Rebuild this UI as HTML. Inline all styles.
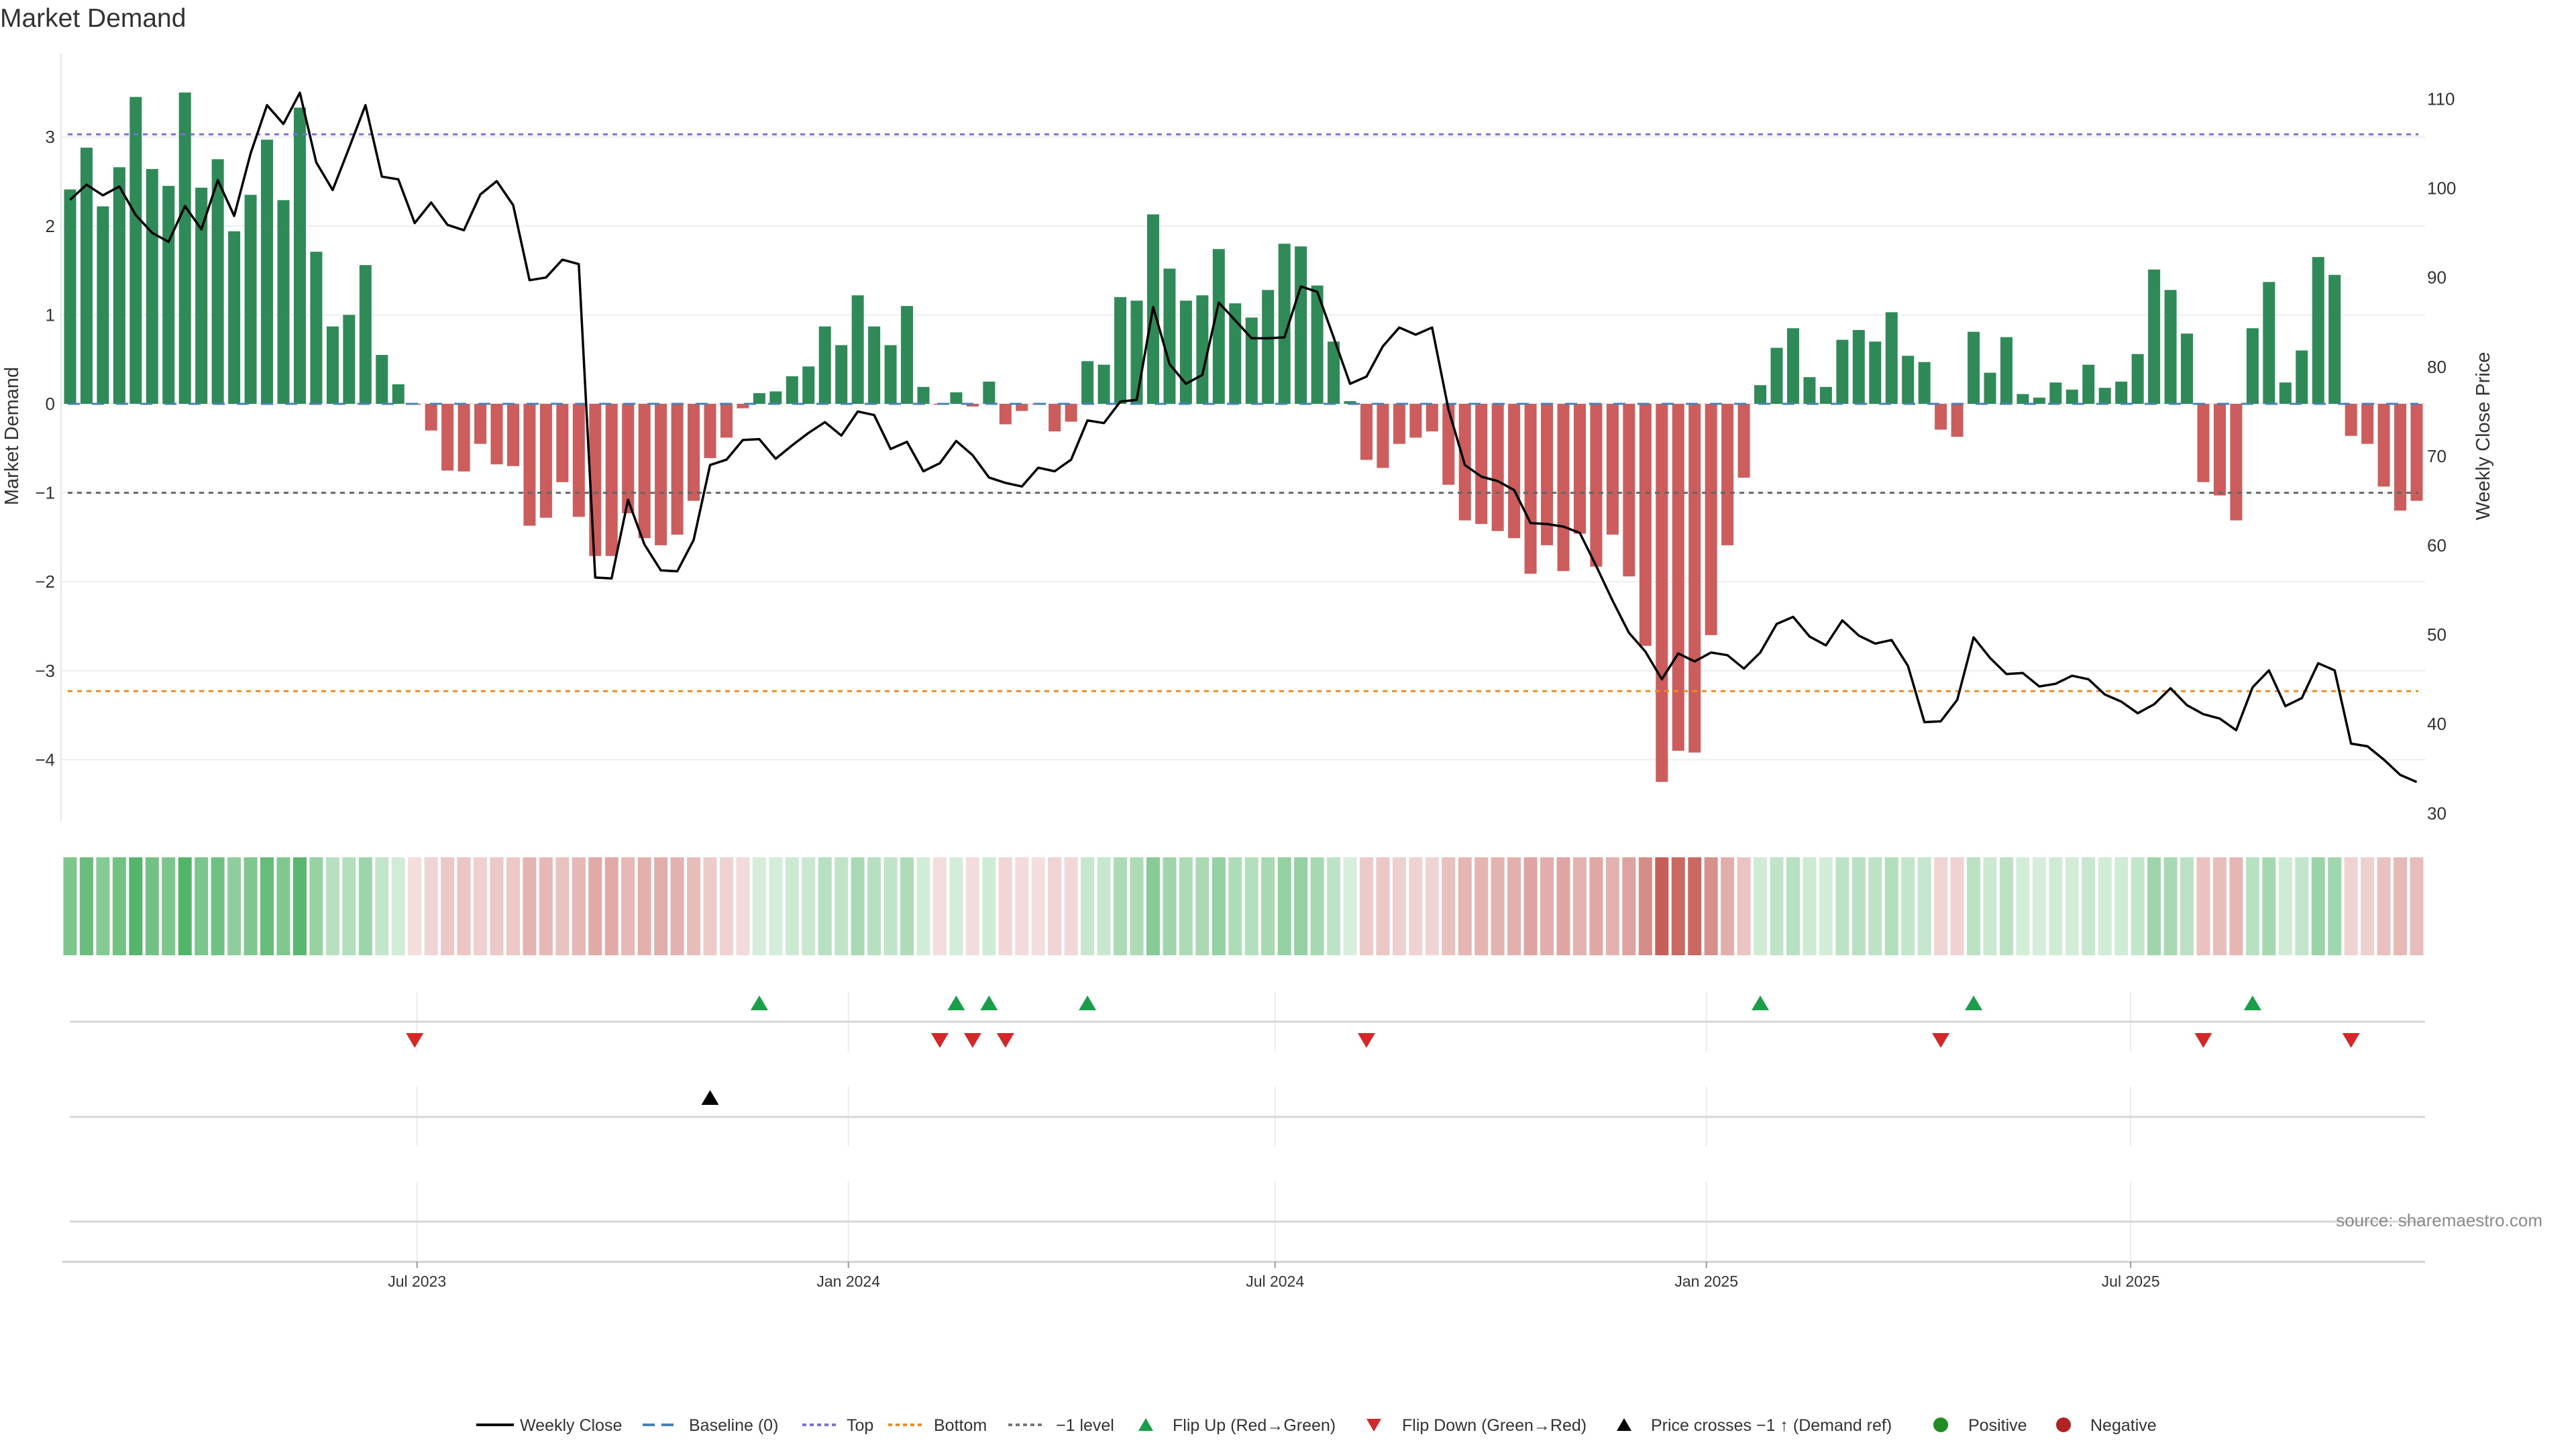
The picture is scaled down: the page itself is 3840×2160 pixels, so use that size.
<!DOCTYPE html>
<html><head><meta charset="utf-8"><title>Market Demand</title>
<style>
html,body{margin:0;padding:0;background:#fff;}
svg{display:block;font-family:"Liberation Sans","DejaVu Sans",sans-serif;}
</style></head>
<body>
<svg id="chart" width="3840" height="2160" viewBox="0 0 3840 2160" xmlns="http://www.w3.org/2000/svg">
<text x="0" y="40" font-size="39" fill="#333">Market Demand</text>
<g id="main"></g>
<g id="heat"></g>
<g id="events"></g>
<g id="xaxis"></g>
<text x="3790" y="1828" font-size="26" fill="#8a8a8a" text-anchor="end">source: sharemaestro.com</text>
<g id="legend"></g>
</svg>
<script>
const startDate = "2023-02-03";
const demand = [2.41,2.88,2.22,2.66,3.45,2.64,2.45,3.50,2.43,2.75,1.94,2.35,2.97,2.29,3.33,1.71,0.87,1.00,1.56,0.55,
0.22,-0.01,-0.30,-0.75,-0.76,-0.45,-0.68,-0.70,-1.37,-1.28,-0.88,-1.27,-1.71,-1.71,-1.23,-1.51,-1.59,-1.47,-1.09,-0.61,
-0.38,-0.05,0.12,0.14,0.31,0.42,0.87,0.66,1.22,0.87,0.66,1.10,0.19,-0.01,0.13,-0.03,0.25,-0.23,-0.08,-0.01,
-0.31,-0.20,0.48,0.44,1.20,1.16,2.13,1.52,1.16,1.22,1.74,1.13,0.97,1.28,1.80,1.77,1.33,0.70,0.03,-0.63,
-0.72,-0.45,-0.38,-0.31,-0.91,-1.31,-1.35,-1.43,-1.51,-1.91,-1.59,-1.88,-1.46,-1.83,-1.47,-1.94,-2.72,-4.25,-3.90,-3.92,
-2.60,-1.59,-0.83,0.21,0.63,0.85,0.30,0.19,0.72,0.83,0.70,1.03,0.54,0.47,-0.29,-0.37,0.81,0.35,0.75,0.11,
0.07,0.24,0.16,0.44,0.18,0.25,0.56,1.51,1.28,0.79,-0.88,-1.03,-1.31,0.85,1.37,0.24,0.60,1.65,1.45,-0.36,
-0.45,-0.93,-1.20,-1.09];
const price = [98.7,100.4,99.2,100.2,97.0,95.0,94.0,98.0,95.4,100.9,96.9,103.9,109.3,107.2,110.7,102.9,99.8,104.5,109.3,101.3,
101.0,96.1,98.4,95.9,95.3,99.3,100.8,98.1,89.7,90.0,92.0,91.5,56.4,56.3,65.1,60.1,57.2,57.1,60.6,69.0,
69.6,71.8,71.9,69.7,71.2,72.6,73.8,72.3,75.0,74.6,70.8,71.6,68.3,69.2,71.7,70.1,67.6,67.0,66.6,68.7,
68.3,69.6,74.0,73.7,76.1,76.3,86.7,80.3,78.1,79.1,87.2,85.2,83.2,83.2,83.3,89.0,88.4,83.3,78.1,78.9,
82.3,84.4,83.6,84.4,75.2,69.0,67.7,67.2,66.2,62.5,62.4,62.1,61.4,57.7,53.8,50.2,48.1,45.0,47.9,47.0,
48.0,47.7,46.2,48.0,51.2,52.0,49.8,48.8,51.6,49.9,49.0,49.4,46.5,40.2,40.3,42.7,49.7,47.4,45.6,45.7,
44.2,44.5,45.4,45.0,43.3,42.5,41.2,42.2,44.0,42.1,41.1,40.6,39.3,44.1,46.0,42.0,42.9,46.8,46.0,37.8,
37.5,36.0,34.3,33.5];
const yTicks = [3,2,1,0,-1,-2,-3,-4];
const priceTicks = [110,100,90,80,70,60,50,40,30];
const xTickDates = ["2023-07-01","2024-01-01","2024-07-01","2025-01-01","2025-07-01"];
const xTickLabels = ["Jul 2023","Jan 2024","Jul 2024","Jan 2025","Jul 2025"];
const topLevel = 3.03;
const bottomLevel = -3.23;
const refLevel = -1;

const NS = "http://www.w3.org/2000/svg";
function mk(tag, attrs, parent){const e=document.createElementNS(NS,tag);for(const k in attrs)e.setAttribute(k,attrs[k]);parent.appendChild(e);return e;}
const DAY=86400000;
const t0 = new Date(startDate+"T00:00:00Z").getTime();
const dates = demand.map((_,i)=>t0+i*7*DAY);
const X0=104.5, X1=3602.5;
const tLast = dates[dates.length-1];
function xDate(t){return X0+(t-t0)/(tLast-t0)*(X1-X0);}
function x(i){return xDate(dates[i]);}
const Y0=602, YU=132.6;
function y(v){return Y0 - v*YU;}
function yp(p){return 147.5 + (110-p)*13.31;}
const PL=91, PR=3615;

const main=document.getElementById('main');
yTicks.forEach(v=>{
  const g=mk('line',{x1:PL,x2:PR,y1:y(v),y2:y(v),stroke:'#eceef1','stroke-width':2},main);
  
  
  const t=mk('text',{x:82,y:y(v)+9,'font-size':26,'text-anchor':'end',fill:'#333'},main);
  t.textContent=(v<0?'\u2212'+Math.abs(v):String(v));
  
  
});
const al=mk('line',{x1:PL,x2:PL,y1:80,y2:1224,stroke:'#e6e6e6','stroke-width':2},main);


priceTicks.forEach(p=>{
  const t=mk('text',{x:3618,y:yp(p)+9,'font-size':26,fill:'#333'},main);
  t.textContent=String(p);
  
  
});
const yl=mk('text',{x:0,y:0,'font-size':29,fill:'#333','text-anchor':'middle',transform:'translate(27,650) rotate(-90)'},main);
yl.textContent='Market Demand';


const yr=mk('text',{x:0,y:0,'font-size':29,fill:'#333','text-anchor':'middle',transform:'translate(3711,650) rotate(-90)'},main);
yr.textContent='Weekly Close Price';



demand.forEach((v,i)=>{
  const b=mk('rect',{x:x(i)-9,y:Math.min(y(v),Y0),width:18,height:Math.max(Math.abs(y(v)-Y0),0.5),fill:v>=0?'#2e8b57':'#cd5c5c'},main);
  
  
});
function hline(v,color,dash,name){
  const l=mk('line',{x1:PL+10,x2:PR-10,y1:y(v),y2:y(v),stroke:color,'stroke-width':3,'stroke-dasharray':dash},main);
  
  
}
hline(topLevel,'#7b6fd8','7 7','top-level-line');
hline(bottomLevel,'#f08c1e','7 7','bottom-level-line');
hline(refLevel,'#666','7 7','minus-one-level-line');
hline(0,'#4682b4','18 18','baseline-zero');
const pts=price.map((p,i)=>x(i).toFixed(1)+','+yp(p).toFixed(1)).join(' ');
const pl=mk('polyline',{points:pts,fill:'none',stroke:'#000','stroke-width':3.5,'stroke-linejoin':'round'},main);



const heat=document.getElementById('heat');
function mix(a,b,t){return 'rgb('+a.map((c,k)=>Math.round(c+(b[k]-c)*t)).join(',')+')';}
demand.forEach((v,i)=>{
  let c;
  if(v>=0) c=mix([216,239,221],[82,180,104],Math.min(v/3.5,1));
  else c=mix([243,221,221],[198,95,87],Math.min(-v/4.25,1));
  const r=mk('rect',{x:x(i)-10,y:1278,width:20,height:146,fill:c},heat);
  
  
});

const ev=document.getElementById('events');
const panels=[[1479,1567],[1620,1709],[1761,1881]];
xTickDates.forEach(d=>{
  const xx=xDate(new Date(d+"T00:00:00Z").getTime());
  panels.forEach(pp=>{
    const g=mk('line',{x1:xx,x2:xx,y1:pp[0],y2:pp[1],stroke:'#ececec','stroke-width':2},ev);
    
    
  });
});
[1523,1665,1821].forEach(yy=>{
  const l=mk('line',{x1:104,x2:PR,y1:yy,y2:yy,stroke:'#d6d6d6','stroke-width':3},ev);
  
  
});
function tri(cx,cy,up,color,name){
  const s=13;
  const p= up ? `${cx-s},${cy+s*0.85} ${cx+s},${cy+s*0.85} ${cx},${cy-s*0.85}` : `${cx-s},${cy-s*0.85} ${cx+s},${cy-s*0.85} ${cx},${cy+s*0.85}`;
  const t=mk('polygon',{points:p,fill:color},ev);
  
  
}
for(let i=1;i<demand.length;i++){
  if(demand[i-1]<0 && demand[i]>=0) tri(x(i),1495,true,'#1a9e4a','flip-up-marker');
  if(demand[i-1]>=0 && demand[i]<0) tri(x(i),1551,false,'#d62728','flip-down-marker');
}
const refPrice = 110 - (y(refLevel)-147.5)/13.31;
for(let i=1;i<price.length;i++){
  if(price[i-1]<refPrice && price[i]>=refPrice) tri(x(i),1636,true,'#000','price-cross-marker');
}
const xa=document.getElementById('xaxis');
const axl=mk('line',{x1:93,x2:PR,y1:1881,y2:1881,stroke:'#d0d0d0','stroke-width':3},xa);


xTickDates.forEach((d,k)=>{
  const xx=xDate(new Date(d+"T00:00:00Z").getTime());
  const tk=mk('line',{x1:xx,x2:xx,y1:1881,y2:1890,stroke:'#999','stroke-width':2},xa);
  
  
  const t=mk('text',{x:xx,y:1918,'font-size':23,'text-anchor':'middle',fill:'#333'},xa);
  t.textContent=xTickLabels[k];
  
  
});

const lg=document.getElementById('legend');
const LY=2124;
function ltext(xx,s){const t=mk('text',{x:xx,y:LY+9,'font-size':25,fill:'#333'},lg);t.textContent=s;}
function lline(x1,x2,color,dash,w){const l=mk('line',{x1:x1,x2:x2,y1:LY,y2:LY,stroke:color,'stroke-width':w,'stroke-dasharray':dash},lg);}
lline(710,766,'#000','none',4); ltext(775,'Weekly Close');
lline(958,1008,'#4682b4','18 10',4); ltext(1027,'Baseline (0)');
lline(1196,1246,'#7b6fd8','6 5',4); ltext(1262,'Top');
lline(1324,1374,'#f08c1e','6 5',4); ltext(1392,'Bottom');
lline(1503,1553,'#777','6 5',4); ltext(1574,'\u22121 level');
function ltri(cx,up,color){const s=11;const p= up?`${cx-s},${LY+9} ${cx+s},${LY+9} ${cx},${LY-10}`:`${cx-s},${LY-9} ${cx+s},${LY-9} ${cx},${LY+10}`;const t=mk('polygon',{points:p,fill:color},lg);}
ltri(1708,true,'#1a9e4a'); ltext(1748,'Flip Up (Red\u2192Green)');
ltri(2048,false,'#d62728'); ltext(2090,'Flip Down (Green\u2192Red)');
ltri(2421,true,'#000'); ltext(2461,'Price crosses \u22121 \u2191 (Demand ref)');
const c1=mk('circle',{cx:2893,cy:LY,r:11,fill:'#228b22'},lg);


ltext(2934,'Positive');
const c2=mk('circle',{cx:3076,cy:LY,r:11,fill:'#b22222'},lg);


ltext(3116,'Negative');
</script>
</body></html>
